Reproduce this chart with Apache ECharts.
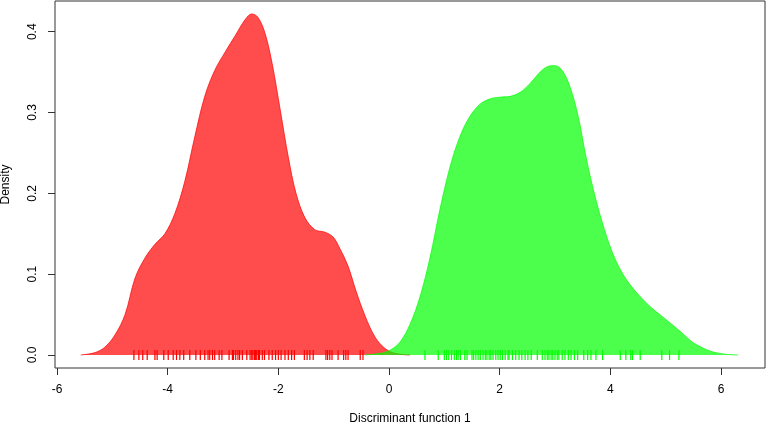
<!DOCTYPE html>
<html>
<head>
<meta charset="utf-8">
<script src="https://cdn.jsdelivr.net/npm/echarts@6/dist/echarts.min.js"></script>
<style>html,body{margin:0;padding:0;background:#fff}#c{width:767px;height:423px}</style>
</head>
<body>
<div id="c"></div>
<script>
var xTicks = [-6, -4, -2, 0, 2, 4, 6];
var yTicks = [0, 0.1, 0.2, 0.3, 0.4];
var redX = [-5.57,-5.31,-5.13,-4.95,-4.77,-4.59,-4.41,-4.23,-4.05,-3.87,-3.69,-3.51,-3.33,-3.15,-2.96,-2.78,-2.60,-2.48,-2.37,-2.24,-2.11,-1.97,-1.82,-1.68,-1.52,-1.34,-1.16,-1.01,-0.89,-0.74,-0.60,-0.43,-0.25,-0.07,0.11,0.38];
var redY = [0,0.003,0.01,0.025,0.05,0.095,0.12,0.137,0.15,0.175,0.215,0.27,0.32,0.352,0.375,0.395,0.415,0.422,0.418,0.398,0.36,0.305,0.245,0.2,0.17,0.155,0.152,0.146,0.132,0.11,0.08,0.048,0.022,0.008,0.002,0];
var greenX = [-0.43,-0.16,0.02,0.20,0.38,0.56,0.74,0.92,1.10,1.28,1.46,1.64,1.83,2.01,2.19,2.37,2.55,2.73,2.87,3.00,3.13,3.27,3.42,3.56,3.71,3.85,4.03,4.21,4.39,4.57,4.75,4.93,5.11,5.30,5.48,5.66,5.84,6.07,6.31];
var greenY = [0,0.002,0.006,0.016,0.038,0.072,0.12,0.18,0.232,0.27,0.295,0.31,0.317,0.319,0.32,0.325,0.336,0.35,0.357,0.358,0.352,0.332,0.295,0.245,0.2,0.165,0.128,0.102,0.084,0.07,0.058,0.048,0.038,0.027,0.016,0.009,0.004,0.001,0];
var redRug = [-4.61,-4.52,-4.45,-4.37,-4.23,-4.19,-4.07,-3.99,-3.90,-3.84,-3.78,-3.71,-3.60,-3.49,-3.41,-3.33,-3.27,-3.24,-3.19,-3.15,-3.07,-3.02,-2.89,-2.83,-2.81,-2.77,-2.73,-2.70,-2.65,-2.57,-2.51,-2.48,-2.46,-2.43,-2.41,-2.39,-2.36,-2.34,-2.29,-2.25,-2.17,-2.11,-2.05,-2.00,-1.95,-1.88,-1.82,-1.76,-1.71,-1.53,-1.48,-1.43,-1.37,-1.14,-1.11,-1.07,-1.03,-0.92,-0.82,-0.78,-0.74,-0.52,-0.47];
var greenRug = [0.65,0.89,1.00,1.04,1.08,1.13,1.18,1.22,1.25,1.29,1.37,1.41,1.50,1.53,1.57,1.61,1.65,1.70,1.74,1.77,1.81,1.84,1.88,1.93,1.97,2.01,2.05,2.10,2.15,2.17,2.23,2.29,2.35,2.40,2.46,2.51,2.57,2.68,2.77,2.82,2.86,2.89,2.93,2.96,3.00,3.04,3.07,3.13,3.18,3.24,3.29,3.35,3.41,3.52,3.59,3.65,3.74,3.86,4.18,4.28,4.37,4.40,4.54,4.93,5.07,5.24];

function pairs(xs, ys) { return xs.map(function (x, i) { return [x, ys[i]]; }); }
function rug(xs) { return xs.map(function (x) { return [x, 0]; }); }

var font = 'Liberation Sans, Arial, sans-serif';
var chart = echarts.init(document.getElementById('c'));
chart.setOption({
  animation: false,
  grid: { left: 55, top: 1, right: 2, bottom: 55, show: true, borderColor: '#333', borderWidth: 1,
    backgroundColor: 'transparent', containLabel: false, outerBoundsMode: 'none' },
  xAxis: {
    type: 'value', min: -6.036, max: 6.795,
    name: 'Discriminant function 1', nameLocation: 'middle', nameGap: 45,
    nameTextStyle: { fontFamily: font, fontSize: 12, color: '#000' },
    axisLine: { show: false, onZero: false },
    axisTick: { show: true, length: 7, lineStyle: { color: '#333' }, customValues: xTicks },
    axisLabel: { customValues: xTicks, margin: 16, fontFamily: font, fontSize: 12, color: '#000' },
    splitLine: { show: false }
  },
  yAxis: {
    type: 'value', min: -0.0161, max: 0.438,
    name: 'Density', nameLocation: 'middle', nameGap: 43,
    nameTextStyle: { fontFamily: font, fontSize: 12, color: '#000' },
    axisLine: { show: false, onZero: false },
    axisTick: { show: true, length: 7, lineStyle: { color: '#333' }, customValues: yTicks },
    axisLabel: { customValues: yTicks, margin: 16, rotate: 90, fontFamily: font, fontSize: 12, color: '#000',
      formatter: function (v) { return v.toFixed(1); } },
    splitLine: { show: false }
  },
  series: [
    { type: 'line', data: pairs(redX, redY), smooth: 0.35, symbol: 'none',
      lineStyle: { color: 'rgb(255,0,0)', width: 1, opacity: 0.7 },
      areaStyle: { color: 'rgb(255,0,0)', opacity: 0.7, origin: 0 }, z: 2 },
    { type: 'scatter', data: rug(redRug), symbol: 'rect', symbolSize: [1.2, 10],
      itemStyle: { color: '#ff0000', opacity: 1 }, z: 3 },
    { type: 'line', data: pairs(greenX, greenY), smooth: 0.35, symbol: 'none',
      lineStyle: { color: 'rgb(0,255,0)', width: 1, opacity: 0.7 },
      areaStyle: { color: 'rgb(0,255,0)', opacity: 0.7, origin: 0 }, z: 4 },
    { type: 'scatter', data: rug(greenRug), symbol: 'rect', symbolSize: [1.2, 10],
      itemStyle: { color: '#00ff00', opacity: 1 }, z: 5 }
  ]
});
</script>
</body>
</html>
